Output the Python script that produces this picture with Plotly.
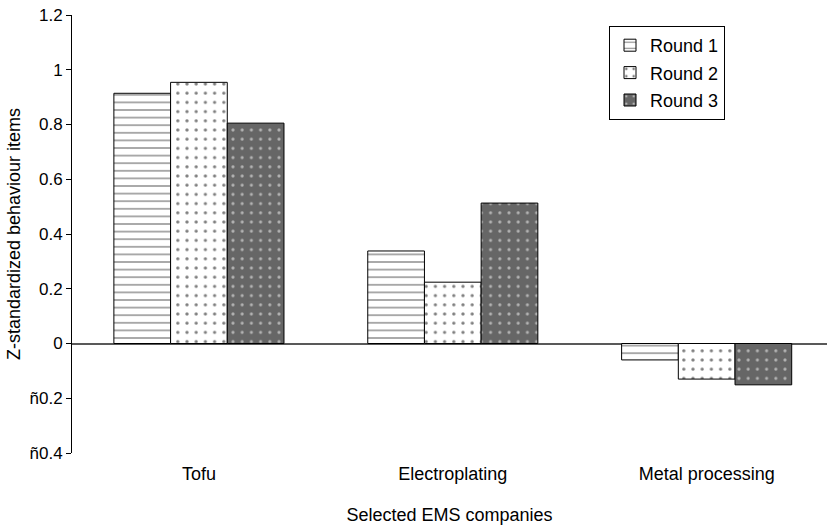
import plotly.graph_objects as go

# Companies and the three survey rounds
companies = ["Tofu", "Electroplating", "Metal processing"]
round_names = ["Round 1", "Round 2", "Round 3"]
round1 = [0.914, 0.338, -0.060]
round2 = [0.954, 0.224, -0.130]
round3 = [0.805, 0.513, -0.151]

y_tickvals = [-0.4, -0.2, 0, 0.2, 0.4, 0.6, 0.8, 1.0, 1.2]
y_ticktext = ["ñ0.4", "ñ0.2", "0", "0.2", "0.4", "0.6", "0.8", "1", "1.2"]

FONT = "Liberation Sans, Arial, sans-serif"

patterns = [
    dict(shape="-", bgcolor="white", fgcolor="black", size=7.6, solidity=0.17),
    dict(shape=".", bgcolor="white", fgcolor="black", size=9.2, solidity=0.1),
    dict(shape=".", bgcolor="#666666", fgcolor="white", size=9.2, solidity=0.09),
]

fig = go.Figure()
for name, vals, pat in zip(round_names, [round1, round2, round3], patterns):
    fig.add_trace(go.Bar(
        x=companies, y=vals, name=name, legendgroup=name,
        marker=dict(color=pat["bgcolor"], pattern=pat,
                    line=dict(color="black", width=1)),
    ))

TOP, BOTTOM, LEFT = 15, 73, 72
plot_h = 526 - TOP - BOTTOM
plot_w = 827 - LEFT

fig.update_layout(
    width=827, height=526,
    margin=dict(l=LEFT, r=0, t=TOP, b=BOTTOM),
    paper_bgcolor="white", plot_bgcolor="white",
    font=dict(family=FONT, size=17, color="black"),
    barmode="group", bargap=0.33, bargroupgap=0,
    showlegend=True,
    legend=dict(
        x=(609 - LEFT) / plot_w, y=1 - (26 - TOP) / plot_h,
        xanchor="left", yanchor="top",
        bordercolor="black", borderwidth=1, bgcolor="white",
        font=dict(size=18), tracegroupgap=1, itemwidth=30,
    ),
    xaxis=dict(
        type="category", range=[-0.5, 2.474],
        showline=False, ticks="", showgrid=False, zeroline=False,
        tickfont=dict(size=18), ticklabelstandoff=8,
        title=dict(text="Selected EMS companies", font=dict(size=18), standoff=25),
    ),
    yaxis=dict(
        range=[-0.4, 1.2], tickvals=y_tickvals, ticktext=y_ticktext,
        showline=True, linecolor="black", linewidth=1,
        ticks="outside", ticklen=5, tickcolor="black",
        showgrid=False, zeroline=True, zerolinecolor="#595959", zerolinewidth=2,
        tickfont=dict(size=17),
        title=dict(text="Z-standardized behaviour items", font=dict(size=18), standoff=4),
    ),
)

fig.write_html("out.html")
